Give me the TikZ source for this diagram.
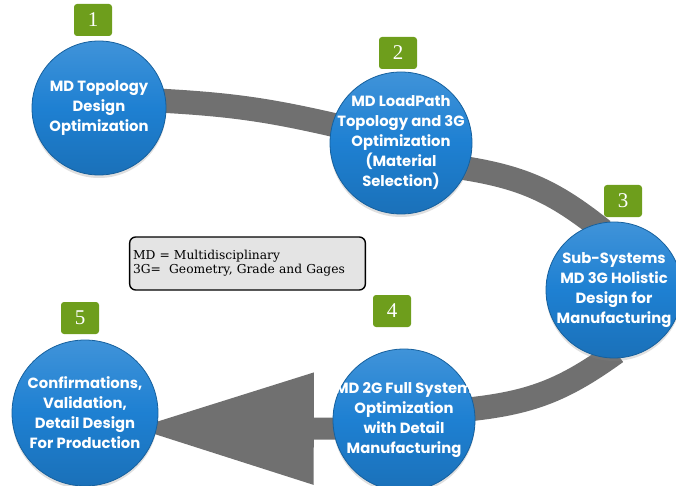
\documentclass[tikz,border=0pt]{standalone}
\usepackage{fontspec}
\setsansfont{Poppins}
\newfontfamily\numfont{Liberation Serif}
\newfontfamily\keyfont{DejaVu Serif}
\usepackage{tikz}
\usetikzlibrary{arrows.meta}
\usetikzlibrary{shadows,backgrounds}
\usepackage{xcolor}
\definecolor{stageblue}{HTML}{1E80D2}
\definecolor{badgegreen}{HTML}{6E9E1C}
\definecolor{bandgray}{HTML}{707070}
\definecolor{keygray}{HTML}{E4E4E4}
\tikzset{
    stage/.style={
        circle,
        top color=stageblue!85!white,
        bottom color=stageblue!88!black,
        middle color=stageblue,
        draw=stageblue!75!black,
        line width=0.8pt,
        drop shadow={opacity=0.25, shadow xshift=0pt, shadow yshift=-3pt},
        inner sep=0pt
    },
    stagetext/.style={
        inner sep=0pt,
        align=center,
        text=white,
        font=\sffamily\bfseries\fontsize{14.8}{20}\selectfont
    },
    badge/.style={
        rectangle,
        rounded corners=3pt,
        fill=badgegreen,
        minimum width=38pt,
        minimum height=32pt,
        inner sep=0pt,
        text=white,
        font=\numfont\fontsize{21}{21}\selectfont
    },
    band/.style={
        draw=bandgray,
        line width=24pt
    }
}

\begin{document}
\begin{tikzpicture}[x=1pt, y=-1pt]
  \useasboundingbox (0,0) rectangle (676,486);

  % Stages
  \node[stage, minimum size=134pt, label={[stagetext]center:MD Topology\\Design\\Optimization}] (c1) at (99,108) {};
  \node[stage, minimum size=142pt, label={[stagetext]center:MD LoadPath\\Topology and 3G\\Optimization\\(Material\\Selection)}] (c2) at (401,143) {};
  \node[stage, minimum size=136pt, label={[stagetext]center:Sub-Systems\\MD 3G Holistic\\Design for\\Manufacturing}] (c3) at (614,290) {};
  \node[stage, minimum size=142pt, label={[stagetext]center:MD 2G Full System\\Optimization\\with Detail\\Manufacturing}] (c4) at (404,420) {};
  \node[stage, minimum size=146pt, label={[stagetext]center:Confirmations,\\Validation,\\Detail Design\\For Production}] (c5) at (85,413) {};

  % Step numbers
  \node[badge] (b1) at (93,20) {1};
  \node[badge] (b2) at (398,53) {2};
  \node[badge] (b3) at (623,201) {3};
  \node[badge] (b4) at (392,311) {4};
  \node[badge] (b5) at (80,318) {5};

  % Abbreviations
  \node[draw=black, line width=1.4pt, fill=keygray, rounded corners=6pt,
        minimum width=235pt, minimum height=53pt, text width=229pt, align=left,
        font=\keyfont\fontsize{12.3}{14}\selectfont] (key) at (247.5,263.5)
        {MD = Multidisciplinary\\3G=\ \ Geometry, Grade and Gages};

  % Loop between the stages
  \begin{pgfonlayer}{background}
    \draw[band, shorten <=-10pt, shorten >=-10pt] (c1.6) to[bend left=5] (c2.165);
    \draw[band, shorten <=-10pt, shorten >=-10pt] (c2.-21) to[bend left=15] (c3.106);
    \draw[band, shorten <=-10pt, shorten >=-10pt] (c3.265) to[bend left=15] (c4.9);
    \draw[band, line width=22pt, -{Triangle[length=180pt, width=106pt]},
          shorten <=-10pt, shorten >=-23pt] (c4.187) -- (c5.-12);
  \end{pgfonlayer}
\end{tikzpicture}
\end{document}
